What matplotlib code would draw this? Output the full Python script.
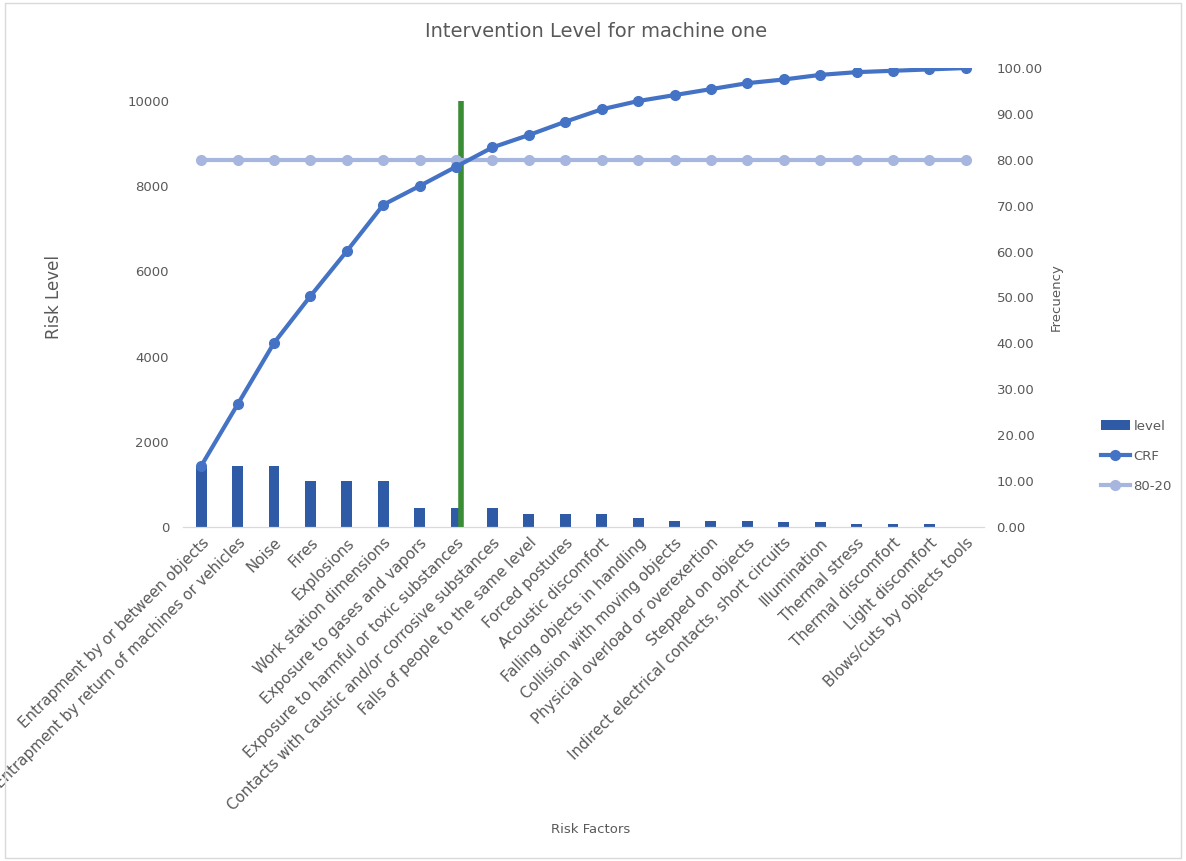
from matplotlib import pyplot as plt
from matplotlib.patches import Rectangle
import numpy as np

# data
factors = ['Entrapment by or between objects',
           'Entrapment by return of machines or vehicles',
           'Noise', 'Fires', 'Explosions', 'Work station dimensions',
           'Exposure to gases and vapors',
           'Exposure to harmful or toxic substances',
           'Contacts with caustic and/or corrosive substances',
           'Falls of people to the same level', 'Forced postures',
           'Acoustic discomfort', 'Falling objects in handling',
           'Collision with moving objects',
           'Physicial overload or overexertion', 'Stepped on objects',
           'Indirect electrical contacts, short circuits', 'Illumination',
           'Thermal stress', 'Thermal discomfort', 'Light discomfort',
           'Blows/cuts by objects tools']
level = [1440, 1440, 1440, 1080, 1080, 1080, 450, 450, 450, 300, 300, 300,
         200, 150, 150, 140, 120, 120, 80, 60, 60, 10]
crf = [13.3, 26.7, 40.1, 50.3, 60.1, 70.2, 74.3, 78.5, 82.7, 85.4, 88.3,
       91.0, 92.8, 94.1, 95.4, 96.7, 97.5, 98.5, 99.1, 99.4, 99.7, 100.0]
rule_80_20 = [80] * len(factors)
cut_x = 7.13          # position of the green intervention line (category units)
cut_height = 10000

text_col = '#595959'
x = np.arange(len(factors))

fig = plt.figure(figsize=(11.86, 8.61), dpi=100)
ax1 = fig.add_axes([0.1543, 0.388, 0.6754, 0.533])
ax2 = ax1.twinx()

b = ax1.bar(x, level, width=0.3, color='#2f5ba6', label='level', zorder=2)
ax1.plot([cut_x, cut_x], [0, cut_height], color='#3a8c35', lw=4,
         solid_capstyle='butt', zorder=3)
l1, = ax2.plot(x, crf, '-o', color='#4472c4', lw=3, ms=7, label='CRF', zorder=4)
l2, = ax2.plot(x, rule_80_20, '-o', color='#a6b6df', lw=3, ms=7, label='80-20', zorder=3)

ax1.set_xlim(-0.5, len(factors) - 0.5)
ax1.set_ylim(0, 10775)
ax1.set_yticks(np.arange(0, 10001, 2000))
ax2.set_ylim(0, 100)
ax2.set_yticks(np.arange(0, 101, 10))
ax2.set_yticklabels(['%.2f' % v for v in np.arange(0, 101, 10)])

ax1.set_xticks(x)
ax1.set_xticklabels(factors, rotation=45, ha='right', rotation_mode='anchor',
                    fontsize=10.8, color=text_col)

for ax in [ax1, ax2]:
    for s in ['top', 'left', 'right']:
        ax.spines[s].set_visible(False)
    ax.spines['bottom'].set_color('#d9d9d9')
    ax.tick_params(length=0, colors=text_col, labelsize=9.5)
ax1.tick_params(axis='y', pad=10)
ax2.tick_params(axis='y', pad=9)
ax1.tick_params(axis='x', pad=6, labelsize=10.8)

ax1.set_ylabel('Risk Level', fontsize=12, color=text_col, labelpad=46)
ax2.set_ylabel('Frecuency', fontsize=9.5, color=text_col, labelpad=5)
ax1.set_xlabel('Risk Factors', fontsize=9.5, color=text_col)
ax1.xaxis.set_label_coords(0.509, -0.645)
fig.suptitle('Intervention Level for machine one', fontsize=14, color=text_col,
             x=0.503, y=0.975)

fig.legend(handles=[b, l1, l2], loc='center left', bbox_to_anchor=(0.918, 0.47),
           frameon=False, fontsize=9.5, labelcolor=text_col, handlelength=2.2,
           labelspacing=1.3, handletextpad=0.3)

# thin chart-area border
fig.patches.append(Rectangle((0.004, 0.004), 0.992, 0.992, transform=fig.transFigure,
                             fill=False, edgecolor='#d9d9d9', lw=1))

plt.savefig('out.png', dpi=100)
